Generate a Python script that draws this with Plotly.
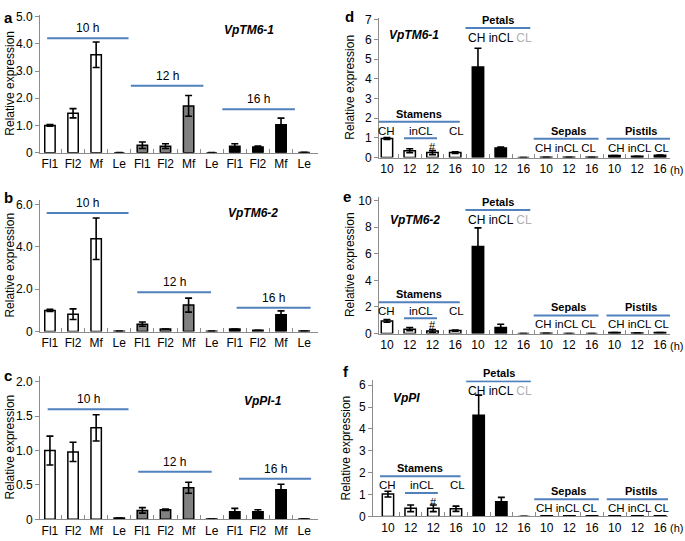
import plotly.graph_objects as go

W, H = 685, 541

# ---- left panels (a, b, c): flowers / leaves at 10, 12, 16 h
left_labels = ["Fl1", "Fl2", "Mf", "Le"] * 3
left_colors = ["white"] * 4 + ["#808080"] * 4 + ["black"] * 4

a_vals = [1.0, 1.45, 3.6, 0.0, 0.27, 0.24, 1.72, 0.0, 0.24, 0.21, 1.03, 0.01]
a_err = [0.03, 0.17, 0.47, None, 0.12, 0.09, 0.38, None, 0.09, 0.03, 0.24, None]

b_vals = [1.0, 0.82, 4.38, 0.02, 0.35, 0.12, 1.25, 0.02, 0.12, 0.06, 0.8, 0.03]
b_err = [0.05, 0.25, 0.98, None, 0.1, None, 0.33, None, None, None, 0.18, None]

c_vals = [1.0, 0.98, 1.33, 0.02, 0.13, 0.14, 0.46, 0.005, 0.11, 0.11, 0.43, 0.005]
c_err = [0.21, 0.14, 0.19, None, 0.04, 0.01, 0.08, None, 0.05, 0.03, 0.08, None]

# ---- right panels (d, e, f): stamens / petals / sepals / pistils
right_labels = ["10", "12", "12", "16", "10", "12", "16", "10", "12", "16", "10", "12", "16"]
right_colors = ["white"] * 4 + ["black"] * 9

d_vals = [0.97, 0.35, 0.25, 0.25, 4.6, 0.48, 0.0, 0.01, 0.01, 0.01, 0.1, 0.06, 0.12]
d_err = [0.05, 0.1, 0.1, 0.04, 0.95, 0.05, None, None, None, None, None, None, None]

e_vals = [0.95, 0.33, 0.2, 0.22, 6.55, 0.45, 0.0, 0.02, 0.0, 0.0, 0.07, 0.05, 0.08]
e_err = [0.1, 0.12, 0.1, 0.05, 1.4, 0.25, None, None, None, None, None, None, None]

f_vals = [1.02, 0.37, 0.37, 0.35, 4.63, 0.67, 0.0, 0.03, 0.03, 0.03, 0.03, 0.03, 0.03]
f_err = [0.13, 0.15, 0.15, 0.12, 0.92, 0.2, None, None, None, None, None, None, None]
f_colors = ["white"] * 4 + ["black"] * 3 + ["#777777"] * 6

BLUE = "#4f81bd"
GRAY = "#8c8c8c"
FONT = "Arial, Liberation Sans, sans-serif"


def px_x(p0, p1):
    return [p0 / W, p1 / W]


def px_y(top, bottom):
    return [1 - bottom / H, 1 - top / H]


panels = [
    dict(vals=a_vals, err=a_err, colors=left_colors, labels=left_labels,
         xd=(40, 318), yd=(10, 151), xr=[-0.43, 11.6], yr=[0, 5.07],
         tv=[0, 1, 2, 3, 4, 5], tt=["0", "1.0", "2.0", "3.0", "4.0", "5.0"],
         letter="a", lpos=(2, 2), gene="VpTM6-1", gpos=(8.6, 4.5), width=0.45, ytx=10,
         groups=[("10 h", -0.12, 3.4, 4.21), ("12 h", 3.5, 6.64, 2.46), ("16 h", 7.46, 10.6, 1.6)]),
    dict(vals=b_vals, err=b_err, colors=left_colors, labels=left_labels,
         xd=(40, 318), yd=(199, 334), xr=[-0.43, 11.6], yr=[0, 6.23],
         tv=[0, 2, 4, 6], tt=["0", "2.0", "4.0", "6.0"],
         letter="b", lpos=(2, 186), gene="VpTM6-2", gpos=(8.8, 5.6), width=0.45, ytx=10,
         groups=[("10 h", -0.14, 3.4, 5.6), ("12 h", 3.78, 6.97, 1.86), ("16 h", 8.08, 11.28, 1.12)]),
    dict(vals=c_vals, err=c_err, colors=left_colors, labels=left_labels,
         xd=(40, 318), yd=(379, 526), xr=[-0.43, 11.6], yr=[0, 2.09],
         tv=[0, 0.5, 1, 1.5, 2], tt=["0", "0.5", "1.0", "1.5", "2.0"],
         letter="c", lpos=(2, 368), gene="VpPI-1", gpos=(9.2, 1.72), width=0.45, ytx=10,
         groups=[("10 h", -0.1, 3.4, 1.6), ("12 h", 3.82, 7.0, 0.69), ("16 h", 8.18, 11.3, 0.59)]),
    dict(vals=d_vals, err=d_err, colors=right_colors, labels=right_labels,
         xd=(379, 670), yd=(13, 156), xr=[-0.35, 12.44], yr=[0, 7.1],
         tv=list(range(8)), tt=[str(i) for i in range(8)],
         letter="d", lpos=(343, 1), gene="VpTM6-1", gpos=(1.2, 6.2), width=0.5, ytx=350,
         organ=dict(pet=6.58, sta=1.82, inl=0.98, sep=0.95)),
    dict(vals=e_vals, err=e_err, colors=right_colors, labels=right_labels,
         xd=(379, 670), yd=(196, 336), xr=[-0.35, 12.44], yr=[0, 10.3],
         tv=[0, 2, 4, 6, 8, 10], tt=["0", "2", "4", "6", "8", "10"],
         letter="e", lpos=(341, 185), gene="VpTM6-2", gpos=(1.25, 8.57), width=0.5, ytx=350,
         organ=dict(pet=9.3, sta=2.35, inl=1.16, sep=1.36)),
    dict(vals=f_vals, err=f_err, colors=f_colors, labels=right_labels,
         xd=(373, 668), yd=(384, 523), xr=[-0.66, 12.35], yr=[0, 6.22],
         tv=list(range(7)), tt=[str(i) for i in range(7)],
         letter="f", lpos=(341, 364), gene="VpPI", gpos=(0.8, 5.4), width=0.5, ytx=346,
         organ=dict(pet=6.19, sta=1.84, inl=1.07, sep=0.79)),
]

fig = go.Figure()
annotations = []
shapes = []
layout = {}

for i, p in enumerate(panels, start=1):
    xa = "x" if i == 1 else f"x{i}"
    ya = "y" if i == 1 else f"y{i}"
    n = len(p["vals"])
    xs = list(range(n))
    fig.add_trace(go.Bar(
        x=xs, y=p["vals"], xaxis=xa, yaxis=ya, width=p["width"],
        marker=dict(color=p["colors"], line=dict(color="black", width=1.5)),
        error_y=dict(type="data", array=p["err"], color="black", thickness=1.6, width=3.5),
        showlegend=False, hoverinfo="skip"))

    layout["xaxis" if i == 1 else f"xaxis{i}"] = dict(
        domain=px_x(*p["xd"]), anchor=ya, range=p["xr"], showgrid=False, zeroline=False,
        showline=True, linecolor=GRAY, linewidth=1,
        tickmode="array", tickvals=xs, ticktext=p["labels"], ticks="", ticklen=0,
        tickfont=dict(size=12, color="black", family=FONT),
        minor=dict(tickmode="array", tickvals=[k + 0.5 for k in range(n - 1)],
                   ticks="inside", ticklen=4, tickcolor=GRAY, tickwidth=1),
        fixedrange=True)
    layout["yaxis" if i == 1 else f"yaxis{i}"] = dict(
        domain=px_y(*p["yd"]), anchor=xa, range=p["yr"], showgrid=False, zeroline=False,
        showline=True, linecolor=GRAY, linewidth=1,
        tickmode="array", tickvals=p["tv"], ticktext=p["tt"], ticks="outside", ticklen=4,
        tickcolor=GRAY, tickfont=dict(size=12, color="black", family=FONT), fixedrange=True)

    # panel letter
    annotations.append(dict(x=p["lpos"][0] / W, y=1 - p["lpos"][1] / H, xref="paper", yref="paper",
                            text=f"<b>{p['letter']}</b>", showarrow=False, xanchor="left", yanchor="top",
                            font=dict(size=15, family=FONT, color="black")))
    # y title
    ymid = 1 - (p["yd"][0] + p["yd"][1]) / 2 / H
    annotations.append(dict(x=p["ytx"] / W, y=ymid, xref="paper", yref="paper",
                            text="Relative expression", textangle=-90, showarrow=False,
                            xanchor="center", yanchor="middle",
                            font=dict(size=12, family=FONT, color="black")))
    # gene name
    annotations.append(dict(x=p["gpos"][0], y=p["gpos"][1], xref=xa, yref=ya,
                            text=f"<b><i>{p['gene']}</i></b>", showarrow=False,
                            font=dict(size=12, family=FONT, color="black")))

    if "groups" in p:
        for label, x0, x1, yl in p["groups"]:
            shapes.append(dict(type="line", xref=xa, yref=ya, x0=x0, x1=x1, y0=yl, y1=yl,
                               line=dict(color=BLUE, width=2)))
            annotations.append(dict(x=(x0 + x1) / 2, y=yl, xref=xa, yref=ya, text=label,
                                    showarrow=False, yanchor="bottom", yshift=1,
                                    font=dict(size=12, family=FONT, color="black")))
    else:
        o = p["organ"]
        bold = dict(size=11, family=FONT, color="black")
        reg = dict(size=12, family=FONT, color="black")
        small = dict(size=11.5, family=FONT, color="black")
        # petals
        shapes.append(dict(type="line", xref=xa, yref=ya, x0=3.45, x1=6.3, y0=o["pet"], y1=o["pet"],
                           line=dict(color=BLUE, width=2)))
        annotations.append(dict(x=4.9, y=o["pet"], xref=xa, yref=ya, text="<b>Petals</b>",
                                showarrow=False, yanchor="bottom", font=bold))
        annotations.append(dict(x=4.95, y=o["pet"], xref=xa, yref=ya,
                                text="CH inCL <span style='color:#b0b0b0'>CL</span>",
                                showarrow=False, yanchor="top", yshift=-1, font=reg))
        # stamens
        shapes.append(dict(type="line", xref=xa, yref=ya, x0=-0.35, x1=3.2, y0=o["sta"], y1=o["sta"],
                           line=dict(color=BLUE, width=2)))
        annotations.append(dict(x=1.4, y=o["sta"], xref=xa, yref=ya, text="<b>Stamens</b>",
                                showarrow=False, yanchor="bottom", font=bold))
        for txt, xx in (("CH", 0), ("inCL", 1.5), ("CL", 3.05)):
            annotations.append(dict(x=xx, y=o["sta"], xref=xa, yref=ya, text=txt, showarrow=False,
                                    yanchor="top", yshift=-1, font=small))
        shapes.append(dict(type="line", xref=xa, yref=ya, x0=0.75, x1=2.2, y0=o["inl"], y1=o["inl"],
                           line=dict(color=BLUE, width=2)))
        # '#' marks the second 12 h stamen sample, sitting on its bar
        annotations.append(dict(x=2, y=p["vals"][2], xref=xa, yref=ya, text="#", showarrow=False,
                                yanchor="bottom", yshift=-2, font=dict(size=11, family=FONT, color="black")))
        # sepals and pistils
        for label, x0, x1 in (("Sepals", 6.45, 9.3), ("Pistils", 9.65, 12.5)):
            shapes.append(dict(type="line", xref=xa, yref=ya, x0=x0, x1=x1, y0=o["sep"], y1=o["sep"],
                               line=dict(color=BLUE, width=2)))
            annotations.append(dict(x=(x0 + x1) / 2 + 0.1, y=o["sep"], xref=xa, yref=ya,
                                    text=f"<b>{label}</b>", showarrow=False, yanchor="bottom",
                                    font=bold))
            annotations.append(dict(x=(x0 + x1) / 2, y=o["sep"], xref=xa, yref=ya,
                                    text="CH inCL CL", showarrow=False, yanchor="top", yshift=-1,
                                    font=small))
        # (h) unit label
        annotations.append(dict(x=1, y=0, xref="paper", yref=f"{ya} domain", text="(h)",
                                showarrow=False, xanchor="right", yanchor="top", yshift=-4,
                                font=dict(size=11, family=FONT, color="black")))

fig.update_layout(**layout)
fig.update_layout(
    width=W, height=H, margin=dict(l=0, r=0, t=0, b=0),
    paper_bgcolor="white", plot_bgcolor="white",
    bargap=0.5, annotations=annotations, shapes=shapes,
    font=dict(family=FONT, color="black"),
)

fig.write_html("out.html", config={"displayModeBar": False},
               post_script="document.body.style.margin='0';document.body.style.overflow='hidden';")
